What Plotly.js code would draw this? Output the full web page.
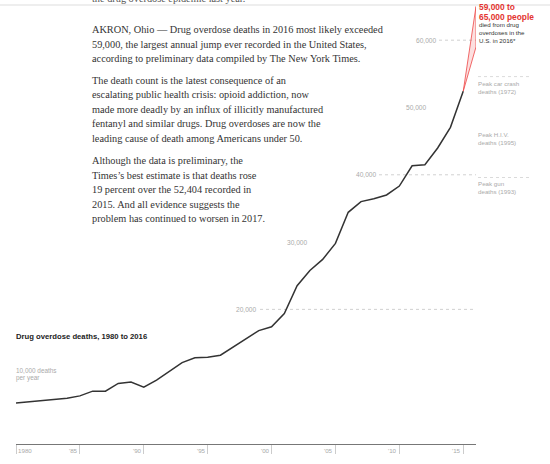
<!DOCTYPE html>
<html>
<head>
<meta charset="utf-8">
<script src="https://cdn.plot.ly/plotly-3.0.1.min.js"></script>
<style>html,body{margin:0;padding:0;background:#fff;}#chart{width:550px;height:464px;}</style>
</head>
<body>
<div id="chart"></div>
<script>
// ---- data ----
const years = [1980,1981,1982,1983,1984,1985,1986,1987,1988,1989,
               1990,1991,1992,1993,1994,1995,1996,1997,1998,1999,
               2000,2001,2002,2003,2004,2005,2006,2007,2008,2009,
               2010,2011,2012,2013,2014,2015];
const deaths = [6100,6250,6400,6600,6800,7150,7850,7850,9000,9200,
                8450,9500,10800,12100,12800,12900,13200,14400,15700,16849,
                17415,19394,23518,25785,27424,29813,34425,36010,36450,37004,
                38329,41340,41502,43982,47055,52404];
const estimateYear = 2016;
const estimateLow = 59000;
const estimateHigh = 65000;
const tickYears = [1980,1985,1990,1995,2000,2005,2010,2015];
const tickLabels = ['1980',"'85","'90","'95","'00","'05","'10","'15"];
const gridValues = [60000,50000,40000,30000,20000];
const gridLabels = ['60,000','50,000','40,000','30,000','20,000'];
const peakLabels = ['Peak car crash<br>deaths (1972)','Peak H.I.V.<br>deaths (1995)','Peak gun<br>deaths (1993)'];
const peakCar = 54589;
const peakGun = 39595;
const chartTitle = 'Drug overdose deaths, 1980 to 2016';
const unitLabel = ['10,000 deaths','per year'];
const calloutBold = ['59,000 to','65,000 people'];
const calloutText = ['died from drug','overdoses in the','U.S. in 2016*'];
const topCut = 'the drug overdose epidemic last year.';
const paragraphs = [
  ['AKRON, Ohio — Drug overdose deaths in 2016 most likely exceeded',
   '59,000, the largest annual jump ever recorded in the United States,',
   'according to preliminary data compiled by The New York Times.'],
  ['The death count is the latest consequence of an',
   'escalating public health crisis: opioid addiction, now',
   'made more deadly by an influx of illicitly manufactured',
   'fentanyl and similar drugs. Drug overdoses are now the',
   'leading cause of death among Americans under 50.'],
  ['Although the data is preliminary, the',
   'Times’s best estimate is that deaths rose',
   '19 percent over the 52,404 recorded in',
   '2015. And all evidence suggests the',
   'problem has continued to worsen in 2017.']
];

// ---- geometry helpers (pixels -> paper) ----
const L = 16, R = 74, T = 0, B = 20, W = 550, H = 464;
const pw = W - L - R, ph = H - T - B;
const px = x => (x - L) / pw;
const py = y => (H - B - y) / ph;

const SERIF = 'Liberation Serif, Times New Roman, serif';
const SANS = 'Liberation Sans, Arial, sans-serif';

const annotations = [];
function txt(text, x, y, o) {
  o = o || {};
  annotations.push(Object.assign({
    text: text, xref: 'paper', yref: 'paper', x: px(x), y: py(y),
    xanchor: 'left', yanchor: 'middle', showarrow: false,
    borderpad: 0, borderwidth: 0, align: 'left',
    font: {family: o.family || SANS, size: o.size || 6.4, color: o.color || '#333'}
  }, o.extra || {}));
}

// body paragraphs
const paraStarts = [30, 80, 160.5];
paragraphs.forEach((p, i) => {
  p.forEach((line, j) => txt(line, 92, paraStarts[i] + j * 14.5, {family: SERIF, size: 10.3, color: '#333'}));
});
txt(topCut, 92, -1.5, {family: SERIF, size: 10.3, color: '#555'});

// title and unit label
txt('<b>' + chartTitle + '</b>', 16, 336, {size: 7.7, color: '#222'});
unitLabel.forEach((t, j) => txt(t, 16, 370 + j * 7.5, {size: 6.4, color: '#aaa'}));

// grid labels (y from data)
const gridLabelRight = [437, 427, 377, 308, 257];
gridValues.forEach((v, i) => {
  annotations.push({
    text: gridLabels[i], xref: 'paper', yref: 'y', x: px(gridLabelRight[i]), y: v,
    xanchor: 'right', yanchor: 'middle', showarrow: false, borderpad: 0, borderwidth: 0,
    font: {family: SANS, size: 6.6, color: '#aaa'}
  });
});

// x tick labels
tickYears.forEach((yr, i) => {
  annotations.push({
    text: tickLabels[i], xref: 'x', yref: 'paper', x: yr, y: py(450),
    xanchor: i === 0 ? 'left' : 'right', xshift: i === 0 ? 2 : -2,
    yanchor: 'middle', showarrow: false, borderpad: 0, borderwidth: 0,
    font: {family: SANS, size: 6.2, color: '#aaa'}
  });
});

// peak labels
const peakY = [87, 138.5, 187.5];
peakLabels.forEach((t, i) => txt(t, 478, peakY[i], {size: 6.2, color: '#aaa'}));

// callout
calloutBold.forEach((t, j) => txt('<b>' + t + '</b>', 479, 7.5 + j * 9, {size: 8.4, color: '#e3342f'}));
calloutText.forEach((t, j) => txt(t, 479, 25 + j * 7.6, {size: 6.2, color: '#333'}));

// shapes
const shapes = [];
// dotted gridlines 60k, 40k, 20k
[[60000, 439], [40000, 379], [20000, 260]].forEach(g => {
  shapes.push({type: 'line', xref: 'paper', yref: 'y', x0: px(g[1]), x1: 1, y0: g[0], y1: g[0],
    line: {color: '#c4c4c4', width: 0.8, dash: 'dot'}, layer: 'below'});
});
// peak reference lines on the right
[peakCar, peakGun].forEach(v => {
  shapes.push({type: 'line', xref: 'paper', yref: 'y', x0: px(478), x1: px(530), y0: v, y1: v,
    line: {color: '#d0d0d0', width: 0.8, dash: 'dot'}});
});
// top border line
shapes.push({type: 'line', xref: 'paper', yref: 'paper', x0: px(0), x1: px(550), y0: py(5), y1: py(5),
  line: {color: '#ddd', width: 1}});

const traces = [
  {
    x: [years[years.length - 1], estimateYear, estimateYear, years[years.length - 1]],
    y: [deaths[deaths.length - 1], estimateHigh, estimateLow, deaths[deaths.length - 1]],
    mode: 'lines', fill: 'toself', fillcolor: 'rgba(240,110,110,0.22)',
    line: {color: '#ee4444', width: 0.8}, hoverinfo: 'skip', cliponaxis: false
  },
  {
    x: years, y: deaths, mode: 'lines',
    line: {color: '#333', width: 1.5}, hoverinfo: 'skip'
  }
];

const layout = {
  width: W, height: H,
  margin: {l: L, r: R, t: T, b: B, pad: 0},
  paper_bgcolor: '#fff', plot_bgcolor: '#fff',
  showlegend: false,
  xaxis: {
    range: [1980, 2016], showgrid: false, zeroline: false,
    showline: true, linecolor: '#777', linewidth: 1,
    ticks: 'outside', tickvals: tickYears, ticklen: 9, tickwidth: 1, tickcolor: '#ccc',
    showticklabels: false, fixedrange: true
  },
  yaxis: {
    range: [0, 65970], visible: false, showgrid: false, zeroline: false, fixedrange: true
  },
  annotations: annotations,
  shapes: shapes
};

Plotly.newPlot('chart', traces, layout, {displayModeBar: false, staticPlot: true});
</script>
</body>
</html>
